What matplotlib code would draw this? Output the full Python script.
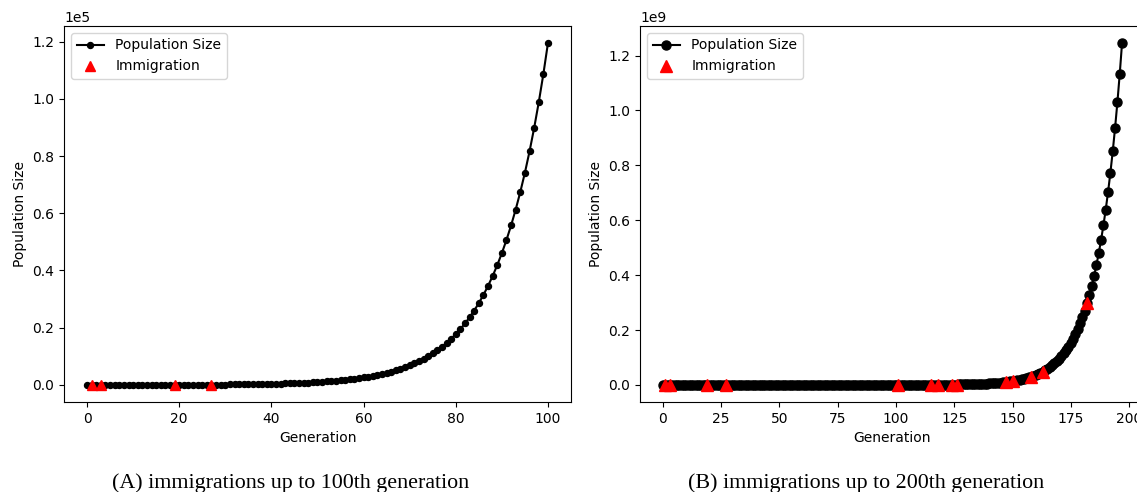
import matplotlib
matplotlib.use("Agg")
import matplotlib.pyplot as plt
import numpy as np

# ---- data ----
gen_a = list(range(0, 101))
pop_a = [9, 10, 10, 12, 13, 14, 15, 17, 19, 20,
         22, 25, 27, 30, 33, 36, 40, 44, 48, 53,
         58, 64, 71, 78, 85, 94, 103, 114, 125, 138,
         151, 166, 183, 201, 221, 244, 268, 295, 324, 357,
         392, 432, 475, 522, 575, 632, 695, 765, 841, 925,
         1018, 1120, 1232, 1355, 1490, 1639, 1803, 1983, 2182, 2400,
         2640, 2904, 3194, 3514, 3865, 4252, 4677, 5144, 5659, 6225,
         6847, 7532, 8285, 9113, 10025, 11027, 12130, 13343, 14677, 16145,
         17760, 19536, 21489, 23638, 26002, 28602, 31462, 34609, 38069, 41876,
         46064, 50670, 55737, 61311, 67442, 74186, 81605, 89766, 98742, 108616,
         119478]
immig_gen_a = [1, 3, 19, 27]

gen_b = list(range(0, 198))
pop_b = [9, 10, 10, 12, 13, 14, 15, 17, 19, 20,
         22, 25, 27, 30, 33, 36, 40, 44, 48, 53,
         58, 64, 71, 78, 85, 94, 103, 114, 125, 138,
         151, 166, 183, 201, 221, 244, 268, 295, 324, 357,
         392, 432, 475, 522, 575, 632, 695, 765, 841, 925,
         1018, 1120, 1232, 1355, 1490, 1639, 1803, 1983, 2182, 2400,
         2640, 2904, 3194, 3514, 3865, 4252, 4677, 5144, 5659, 6225,
         6847, 7532, 8285, 9113, 10025, 11027, 12130, 13343, 14677, 16145,
         17760, 19536, 21489, 23638, 26002, 28602, 31462, 34609, 38069, 41876,
         46064, 50670, 55737, 61311, 67442, 74186, 81605, 89766, 98742, 108616,
         120305, 132336, 145569, 160126, 176139, 193753, 213128, 234441, 257885, 283673,
         312041, 343245, 377569, 415326, 456859, 502545, 552799, 608079, 668887, 735776,
         809353, 890289, 979318, 1077250, 1184975, 1303472, 1433819, 1577201, 1734921, 1908413,
         2099255, 2309180, 2540098, 2794108, 3073519, 3380871, 3718958, 4090854, 4499939, 4949933,
         5444926, 5989419, 6588361, 7247197, 7971917, 8769108, 9646019, 10610621, 11671683, 12838851,
         14122737, 15535010, 17088511, 18797362, 20677099, 22744808, 25019289, 27521218, 30273340, 33300674,
         36630741, 40293815, 44323197, 48755516, 53631068, 58994175, 64893592, 71382951, 78521246, 86373371,
         95010708, 104511779, 114962957, 126459252, 139105178, 153015696, 168317265, 185148992, 203663891, 224030280,
         246433308, 271076639, 298184303, 328002733, 360803007, 396883307, 436571638, 480228802, 528251682, 581076850,
         639184535, 703102988, 773413287, 850754616, 935830077, 1029413085, 1132354394, 1245589833]
immig_gen_b = [1, 3, 19, 27, 101, 115, 118, 124, 126, 147, 150, 158, 163, 182]

captions = ["(A) immigrations up to 100th generation",
            "(B) immigrations up to 200th generation"]

plt.rcParams['font.family'] = ['DejaVu Sans']
W, H = 1137, 492
fig = plt.figure(figsize=(W / 100, H / 100), dpi=100)

def px_axes(l, r, t, b):
    return fig.add_axes([l / W, (H - b) / H, (r - l) / W, (b - t) / H])

ax1 = px_axes(64, 571, 26, 402)
ax2 = px_axes(640, 1145, 26, 402)

def draw(ax, gen, pop, imm, ms_line, ms_tri):
    ax.plot(gen, pop, '-o', color='black', markersize=ms_line, linewidth=1.5,
            label='Population Size')
    iy = [pop[gen.index(g)] for g in imm]
    ax.plot(imm, iy, '^', color='red', markersize=ms_tri, linestyle='none',
            label='Immigration', zorder=3)
    ax.set_xlabel('Generation', fontsize=10)
    ax.set_ylabel('Population Size', fontsize=10)
    ax.tick_params(labelsize=10)
    ax.ticklabel_format(axis='y', style='sci', scilimits=(0, 0))
    ax.legend(loc='upper left', fontsize=10)

draw(ax1, gen_a, pop_a, immig_gen_a, 4.3, 7)
draw(ax2, gen_b, pop_b, immig_gen_b, 6.5, 9)

fig.text(291 / W, (H - 483) / H, captions[0], ha='center', va='center',
         family='Liberation Serif', fontsize=15.8)
fig.text(866 / W, (H - 483) / H, captions[1], ha='center', va='center',
         family='Liberation Serif', fontsize=15.8)

fig.savefig('out.png', dpi=100)
